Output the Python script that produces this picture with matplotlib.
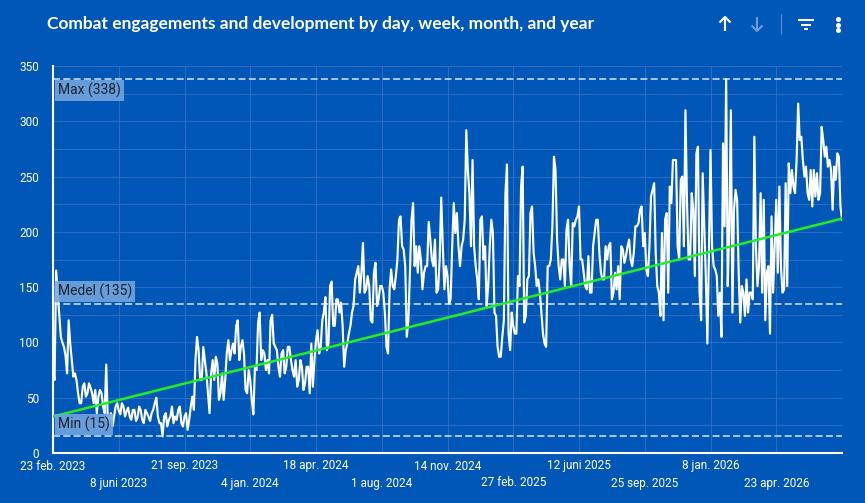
import numpy as np
import pandas as pd
import matplotlib
matplotlib.use("Agg")
import matplotlib.pyplot as plt
import matplotlib.dates as mdates
from matplotlib.lines import Line2D
from matplotlib.transforms import blended_transform_factory

# ---------------- data ----------------
START = "2023-02-23"
STEP_DAYS = 2.5   # readings every 2.5 days: main readings + in-between readings

# readings at day 0, 5, 10, ...
main_readings = [
    75, 165, 125, 100, 88, 120, 84, 72, 54, 45, 63, 54, 59, 45, 36, 57, 42, 80, 27, 24,
    42, 38, 45, 33, 41, 30, 39, 32, 39, 27, 36, 29, 39, 50, 27, 15, 36, 30, 42,
    33, 39, 27, 33, 21, 42, 39, 105, 66, 96, 72, 36, 84, 87, 48, 72, 66, 102, 93, 90,
    120, 96, 90, 54, 66, 35, 75, 127, 93, 75, 72, 125, 96, 78, 90, 72, 96, 84, 69, 60,
    84, 57, 78, 54,
    60, 102, 90, 120, 141, 99, 155, 115, 139, 136, 78, 99, 115, 133, 163, 145, 190, 148,
    151, 118, 172, 139, 151, 127, 90, 166, 148, 175, 214, 184, 105, 163, 226, 187, 187,
    148, 169, 209, 175, 193, 148, 231, 148,
    160, 139, 226, 217, 169, 193, 292, 235, 265, 169, 139, 214, 187, 151, 211, 127, 96,
    87, 120, 261, 93, 115, 108, 151, 259, 124, 160, 223, 169, 157, 127, 99, 169, 175,
    268, 193, 157, 175, 202, 169, 208, 211, 223,
    175, 151, 178, 145, 199, 211, 163, 157, 175, 190, 145, 148, 139, 184, 178, 193, 169,
    205, 208, 223, 199, 160, 232, 244, 151, 124, 120, 217, 241, 265, 265, 175, 250, 310,
    175, 235, 160, 277, 120, 205, 99, 274, 169,
    160, 145, 280, 338, 205, 127, 238, 163, 151, 124, 127, 145, 286, 151, 235, 229, 163,
    108, 145, 229, 241, 145, 244, 262, 256, 235, 316, 286, 250, 235, 256, 256, 253, 235,
    283, 277, 265, 220, 247, 268, 211,
]

# readings at day 2.5, 7.5, 12.5, ... (between the main readings)
mid_readings = [
    66, 145, 105, 96, 72, 99, 69, 66, 45, 60, 51, 63, 54, 57, 51, 54, 36, 30, 36, 33,
    45, 35, 42, 38, 33, 39, 29, 42, 30, 39, 33, 36, 45, 33, 27, 33, 24, 33, 27,
    30, 42, 24, 36, 30, 51, 84, 93, 66, 84, 54, 72, 66, 81, 54, 48, 90, 84, 99, 115,
    84, 102, 57, 75, 48, 78, 118, 84, 90, 84, 120, 99, 93, 69, 93, 78, 96, 75, 84, 66,
    78, 63, 78, 99,
    84, 111, 96, 127, 93, 151, 115, 139, 127, 115, 93, 108, 127, 157, 169, 163, 145, 160,
    120, 163, 133, 151, 145, 96, 148, 151, 160, 211, 187, 169, 120, 211, 169, 163, 175,
    163, 169, 193, 169, 145, 175, 187, 169,
    135, 187, 199, 187, 187, 211, 256, 187, 187, 157, 211, 175, 133, 187, 199, 124, 87,
    105, 235, 108, 127, 108, 160, 241, 118, 157, 217, 181, 151, 145, 108, 96, 169, 205,
    256, 169, 175, 151, 211, 151, 205, 214, 175,
    163, 148, 145, 187, 211, 181, 157, 187, 187, 139, 163, 169, 187, 172, 187, 175, 181,
    205, 220, 187, 166, 187, 238, 181, 145, 199, 211, 145, 226, 265, 187, 247, 187, 226,
    175, 220, 271, 145, 253, 160, 181, 187, 166,
    124, 105, 205, 151, 310, 220, 229, 118, 145, 157, 145, 139, 187, 169, 145, 120, 169,
    214, 187, 163, 169, 148, 151, 235, 241, 265, 283, 265, 259, 229, 223, 232, 229, 295,
    268, 259, 256, 259, 271, 223,
]

TICK_DATES = ["2023-02-23", "2023-06-08", "2023-09-21", "2024-01-04", "2024-04-18",
              "2024-08-01", "2024-11-14", "2025-02-27", "2025-06-12", "2025-09-25",
              "2026-01-08", "2026-04-23"]
TICK_LABELS = ["23 feb. 2023", "8 juni 2023", "21 sep. 2023", "4 jan. 2024",
               "18 apr. 2024", "1 aug. 2024", "14 nov. 2024", "27 feb. 2025",
               "12 juni 2025", "25 sep. 2025", "8 jan. 2026", "23 apr. 2026"]
Y_TICKS = [0, 50, 100, 150, 200, 250, 300, 350]
REF_NAMES = ["Max", "Medel", "Min"]
REF_VALUES = [338, 135, 15]
TREND_ENDS = [33, 212]
TITLE = "Combat engagements and development by day, week, month, and year"

# combine the two sets of readings in time order
values = np.empty(len(main_readings) + len(mid_readings))
values[0::2] = main_readings
values[1::2] = mid_readings

# ---------------- styling ----------------
BG = "#0057B8"
GRID = "#2a6cc4"
REF_COLOR = "#a9c8ee"
BOX_COLOR = "#76a6df"
TREND_COLOR = "#22ee22"

W, H = 865, 503
fig = plt.figure(figsize=(W / 100, H / 100), dpi=100, facecolor=BG)

def fx(px):
    return px / W

def fy(py):
    return 1 - py / H

ax = fig.add_axes([fx(53), fy(453), fx(842) - fx(53), fy(66) - fy(453)])
ax.set_facecolor(BG)

dates = pd.to_datetime(START) + pd.to_timedelta(np.arange(len(values)) * STEP_DAYS * 24, unit="h")
xd = mdates.date2num(dates)

ax.set_xlim(xd[0], xd[-1])
ax.set_ylim(0, 350)

# grid
for v in np.arange(25, 351, 25):
    ax.axhline(v, color=GRID, lw=0.8, zorder=0)
tick_x = mdates.date2num(pd.to_datetime(TICK_DATES))
for t in tick_x:
    ax.axvline(t, color=GRID, lw=0.8, zorder=0)

# data line
ax.plot(xd, values, color="white", lw=1.55, zorder=3)

# trend
ax.plot([xd[0], xd[-1]], TREND_ENDS, color=TREND_COLOR, lw=1.8, zorder=4)

# reference lines + labels
label_y = {"Max": 328, "Medel": 146, "Min": 26}
ltrans = blended_transform_factory(ax.transAxes, ax.transData)
for name, val in zip(REF_NAMES, REF_VALUES):
    ax.axhline(val, color=REF_COLOR, lw=1.4, dashes=(3.6, 1.7), zorder=2)
    ax.text(0.006, label_y[name], f"{name} ({val})", transform=ltrans,
            ha="left", va="center", fontsize=10, family="Roboto", color="#1a2433", zorder=6,
            bbox=dict(boxstyle="square,pad=0.22", fc=BOX_COLOR, ec="none", alpha=0.88))

# spines
for s in ["top", "right"]:
    ax.spines[s].set_visible(False)
for s in ["left", "bottom"]:
    ax.spines[s].set_color("white")
    ax.spines[s].set_linewidth(1.5)

ax.set_yticks(Y_TICKS)
ax.set_yticklabels([str(v) for v in Y_TICKS])
ax.tick_params(axis="y", length=0, pad=10, colors="white", labelsize=8.5)
for lab in ax.get_yticklabels():
    lab.set_family("Roboto")
ax.set_xticks([])

# x tick labels in two rows
xtrans = blended_transform_factory(ax.transData, fig.transFigure)
for i, (t, lab) in enumerate(zip(tick_x, TICK_LABELS)):
    ypx = 466 if i % 2 == 0 else 483
    ax.text(t, fy(ypx), lab, transform=xtrans, ha="center", va="center",
            fontsize=8.5, family="Roboto", color="white", clip_on=False)

# title
fig.text(fx(47), fy(24), TITLE, ha="left", va="center", fontsize=12.5,
         fontweight="bold", family="Lato", color="white")

# toolbar icons
def line(xs, ys, color="white", lw=1.5, alpha=1.0):
    fig.add_artist(Line2D([fx(x) for x in xs], [fy(y) for y in ys], color=color, lw=lw,
                          alpha=alpha, solid_capstyle="butt"))

line([725, 725], [17, 31], lw=1.5)
line([719.5, 725, 730.5], [22.5, 17, 22.5], lw=1.5)
line([757, 757], [17, 31], color="#6f9ad8", lw=1.5)
line([751.5, 757, 762.5], [25.5, 31, 25.5], color="#6f9ad8", lw=1.5)
line([781, 781], [14, 34], color="#5d8fd3", lw=0.8)
line([798, 814], [20, 20], lw=1.5)
line([801, 811], [24.5, 24.5], lw=1.5)
line([804, 808], [29, 29], lw=1.5)
for yy in [19, 24.5, 30]:
    fig.add_artist(Line2D([fx(838)], [fy(yy)], marker="o", ms=2.6, color="white", lw=0))

fig.savefig("out.png", dpi=100, facecolor=BG)
